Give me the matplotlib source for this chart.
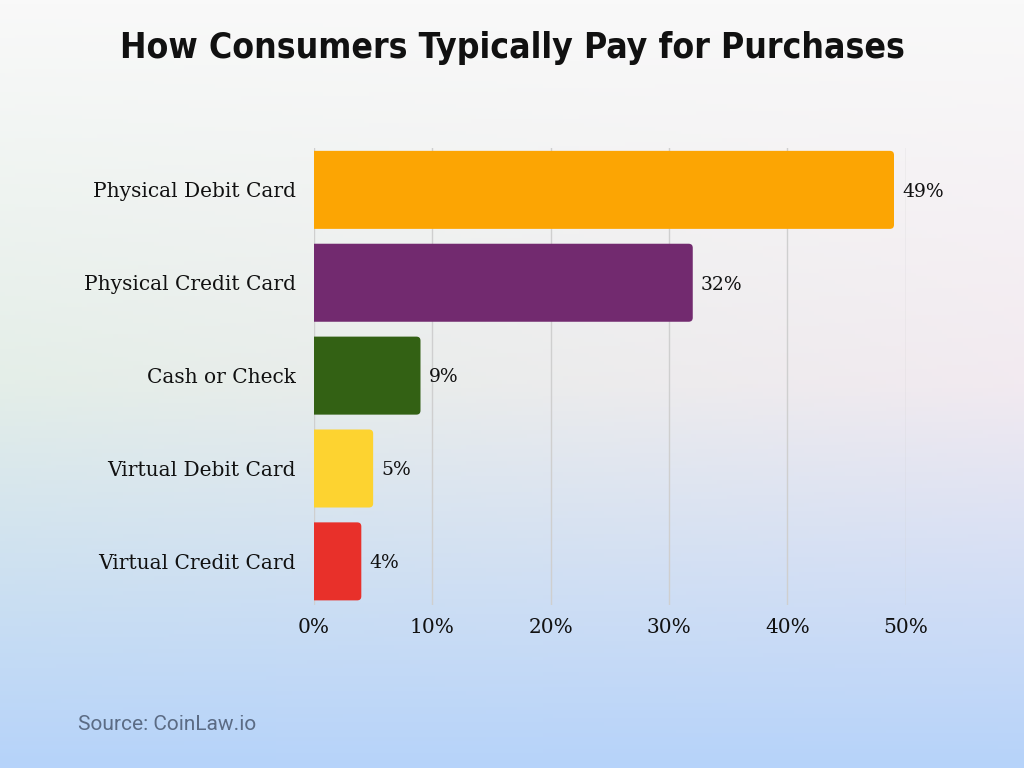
import numpy as np
import matplotlib
matplotlib.use("Agg")
import matplotlib.pyplot as plt
from matplotlib.patches import FancyBboxPatch

categories = ['Physical Debit Card', 'Physical Credit Card', 'Cash or Check',
              'Virtual Debit Card', 'Virtual Credit Card']
shares = [49, 32, 9, 5, 4]
bar_colors = ['#fca503', '#722a6f', '#336114', '#fdd330', '#e8302a']
xticks = [0, 10, 20, 30, 40, 50]

fig = plt.figure(figsize=(10.24, 7.68), dpi=100)

# background gradient
bg = fig.add_axes([0, 0, 1, 1], zorder=-10)
h, w = 200, 200
yy, xx = np.mgrid[0:1:h * 1j, 0:1:w * 1j]
top = np.array([249, 249, 249]) / 255
mid_l = np.array([228, 238, 232]) / 255
mid_r = np.array([242, 234, 240]) / 255
bot = np.array([182, 211, 250]) / 255
mid = mid_l[None, None, :] * (1 - xx[..., None]) + mid_r[None, None, :] * xx[..., None]
t = yy[..., None]
img = np.where(t < 0.5,
               top * (1 - t / 0.5) + mid * (t / 0.5),
               mid * (1 - (t - 0.5) / 0.5) + bot * ((t - 0.5) / 0.5))
bg.imshow(np.clip(img, 0, 1), aspect='auto', extent=[0, 1, 0, 1], origin='upper')
bg.axis('off')

ax = fig.add_axes([0.3066, 0.2122, 0.578, 0.595])
ax.patch.set_alpha(0)
y = np.arange(len(categories))
bh = 0.84
# bars with rounded right corners (left corners hidden behind the axis)
for yi, v, c in zip(y, shares, bar_colors):
    ax.add_patch(FancyBboxPatch((-1, yi - bh / 2), v + 1, bh,
                                boxstyle='round,pad=0,rounding_size=0.35',
                                mutation_aspect=0.125, facecolor=c,
                                edgecolor='none', zorder=3))
ax.set_ylim(4.47, -0.45)
ax.set_xlim(0, 50)
ax.set_xticks(xticks)
ax.set_xticklabels([f'{v}%' for v in xticks])
ax.set_yticks(y)
ax.set_yticklabels(categories)
ax.grid(axis='x', color='#cfcfcf', linewidth=1, zorder=0)
for s in ax.spines.values():
    s.set_visible(False)
ax.tick_params(axis='both', length=0)
ax.tick_params(axis='y', pad=13)
ax.tick_params(axis='x', pad=9)
for lab in ax.get_yticklabels() + ax.get_xticklabels():
    lab.set_fontfamily('DejaVu Serif')
    lab.set_fontsize(14.5)
    lab.set_color('#111111')

for yi, v in zip(y, shares):
    ax.text(v + 0.7, yi + 0.02, f'{v}%', va='center', ha='left', fontsize=13.5,
            family='DejaVu Serif', color='#111111', clip_on=False)

fig.text(0.5, 0.938, 'How Consumers Typically Pay for Purchases', ha='center', va='center',
         fontsize=25.5, fontweight='heavy', fontstretch='condensed',
         family='DejaVu Sans', color='#111111')
fig.text(0.076, 0.057, 'Source: CoinLaw.io', ha='left', va='center', fontsize=15,
         family='Roboto', color='#5b6b84')

fig.savefig('out.png', dpi=100)
